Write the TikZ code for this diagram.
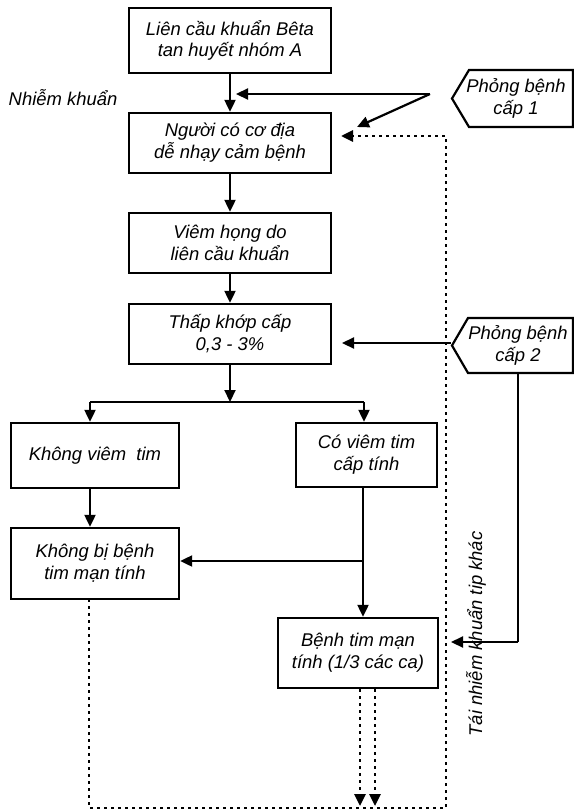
\documentclass[tikz,border=0pt]{standalone}
\usepackage{fontspec}
\setmainfont{Liberation Sans}
\usetikzlibrary{arrows.meta}
\begin{document}
\begin{tikzpicture}[x=1bp,y=-1bp,
  txt/.style={font=\fontsize{18.5}{22}\selectfont\itshape, align=center, inner sep=0pt},
  box/.style={txt, draw, line width=2.4bp},
  ln/.style={line width=2.2bp},
  arr/.style={ln, -{Triangle[length=12bp,width=11bp]}},
  dot/.style={line width=2.8bp, dash pattern=on 3bp off 4bp},
  darr/.style={dot, -{Triangle[length=12bp,width=11bp]}}
]
\useasboundingbox (0,0) rectangle (574,811);

% main boxes
\node[box, minimum width=202bp, minimum height=65bp] (b1) at (230,40.5) {Liên cầu khuẩn Bêta\\tan huyết nhóm A};
\node[box, minimum width=202bp, minimum height=60bp] (b2) at (230,143) {Người có cơ địa\\dễ nhạy cảm bệnh};
\node[box, minimum width=202bp, minimum height=60bp] (b3) at (230,243) {Viêm họng do\\liên cầu khuẩn};
\node[box, minimum width=202bp, minimum height=60bp] (b4) at (230,334) {Thấp khớp cấp\\0,3 - 3\%};
\node[box, minimum width=168bp, minimum height=65bp] (b5) at (95,455.5) {Không viêm\ \ tim};
\node[box, minimum width=141bp, minimum height=64bp] (b6) at (366.5,455) {Có viêm tim\\cấp tính};
\node[box, minimum width=168bp, minimum height=71bp] (b7) at (95,563.5) {Không bị bệnh\\tim mạn tính};
\node[box, minimum width=160bp, minimum height=70bp] (b8) at (358,653) {Bệnh tim mạn\\tính (1/3 các ca)};

% side labels
\node[txt] (nk) at (63,98) {Nhiễm khuẩn};
\node[txt, rotate=90] (tn) at (476,634) {Tái nhiễm khuẩn tip khác};

% prevention pentagons
\draw[ln] (573,70) -- (469,70) -- (452,98.5) coordinate (p1tip) -- (469,127) -- (573,127) -- cycle;
\node[txt] (p1) at (516,98.5) {Phỏng bệnh\\cấp 1};
\draw[ln] (573,318) -- (468,318) -- (452,345.5) coordinate (p2tip) -- (468,373) -- (573,373) -- cycle;
\node[txt] (p2) at (518,345.5) {Phỏng bệnh\\cấp 2};

% coordinates
\coordinate (s1) at (430,94);
\coordinate (t1) at (236,94);
\coordinate (t2) at (357,127);
\coordinate (a2s) at (451,343);
\coordinate (a2e) at (342,343);
\coordinate (j) at (230,402);
\coordinate (jL) at (90,402);
\coordinate (jR) at (364,402);
\coordinate (c6) at (363,487);
\coordinate (h6) at (363,561);
\coordinate (p2b) at (518,373);
\coordinate (p2c) at (518,642);
\coordinate (p2e) at (451,642);
\coordinate (dl1) at (89,599);
\coordinate (dl2) at (89,808);
\coordinate (dr1) at (446,808);
\coordinate (dr2) at (446,136);
\coordinate (de) at (341,136);
\coordinate (e1) at (360,806);
\coordinate (e2) at (375,806);

% main flow
\draw[arr] (b1) -- (b2);
\draw[arr] (b2) -- (b3);
\draw[arr] (b3) -- (b4);
\draw[arr] (b4) -- (j);
\draw[ln] (jL) -- (jR);
\draw[arr] (jL) -- (jL |- b5.north);
\draw[arr] (jR) -- (jR |- b6.north);
\draw[arr] (jL |- b5.south) -- (jL |- b7.north);
\draw[arr] (c6) -- (c6 |- b8.north);
\draw[arr] (h6) -- (h6 -| b7.east);

% prevention arrows
\draw[arr] (s1) -- (t1);
\draw[arr] (s1) -- (t2);
\draw[arr] (a2s) -- (a2e);
\draw[ln] (p2b) -- (p2c);
\draw[arr] (p2c) -- (p2e);

% dotted feedback loop
\draw[darr] (dl1) -- (dl2) -- (dr1) -- (dr2) -- (de);
\draw[darr] (e1 |- b8.south) -- (e1);
\draw[darr] (e2 |- b8.south) -- (e2);
\end{tikzpicture}
\end{document}
